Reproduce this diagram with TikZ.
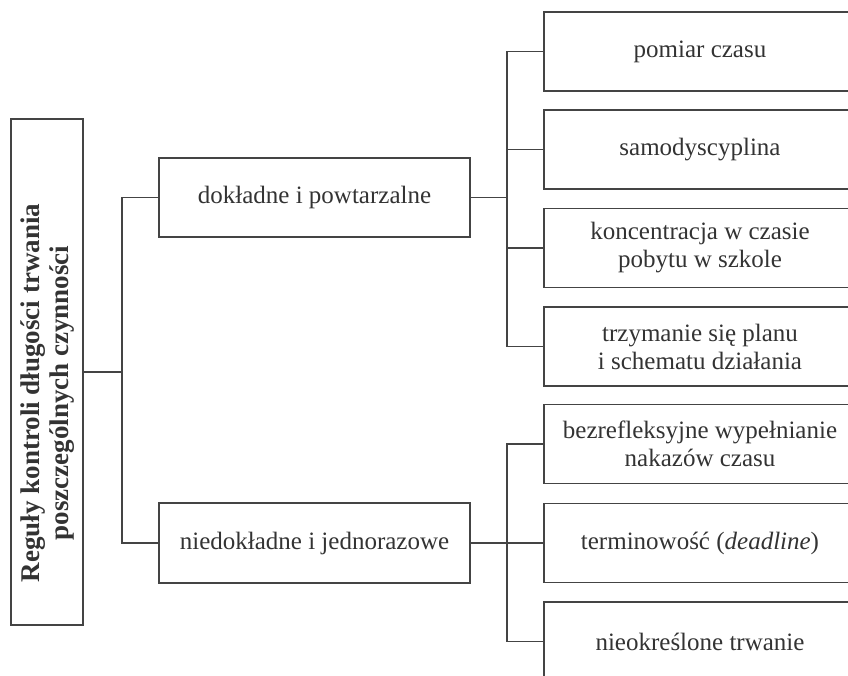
\documentclass[tikz,border=0pt]{standalone}
\usepackage{fontspec}
\setmainfont{Liberation Serif}
\definecolor{ink}{HTML}{333333}
\definecolor{linec}{HTML}{444444}
\begin{document}
\begin{tikzpicture}[x=1pt,y=-1pt,
  every node/.style={text=ink},
  box/.style={draw=linec, line width=1.3pt, inner sep=0pt, align=center,
    font=\fontsize{25}{28}\selectfont},
  rbox/.style={box, minimum width=312pt, minimum height=79pt},
  conn/.style={draw=linec, line width=1.3pt}]
\useasboundingbox (0,0) rectangle (848,676);
\clip (0,0) rectangle (848,676);
\node[box, minimum width=72pt, minimum height=506pt] (root) at (47,372) {};
\node[text=ink, rotate=90, align=center, font=\bfseries\fontsize{27}{29}\selectfont] (roottext) at (48,393) {Reguły kontroli długości trwania\\poszczególnych czynności};
\node[box, minimum width=311pt, minimum height=79pt] (A) at (314.5,197.5) {dokładne i powtarzalne};
\node[box, minimum width=311pt, minimum height=80pt] (B) at (314.5,543) {niedokładne i jednorazowe};
\node[rbox] (r1) at (700,51.5) {pomiar czasu};
\node[rbox] (r2) at (700,149.5) {samodyscyplina};
\node[rbox] (r3) at (700,248) {koncentracja w czasie\\pobytu w szkole};
\node[rbox] (r4) at (700,346.5) {trzymanie się planu\\i schematu działania};
\node[rbox] (r5) at (700,444) {bezrefleksyjne wypełnianie\\nakazów czasu};
\node[rbox] (r6) at (700,543) {terminowość (\textit{deadline})};
\node[rbox] (r7) at (700,641.5) {nieokreślone trwanie};
\coordinate (j1) at (122,372);
\coordinate (j2) at (507,197.5);
\coordinate (j3) at (507,543);
\draw[conn] (root.east) -- (j1);
\draw[conn] (A.west) -| (j1) |- (B.west);
\draw[conn] (A.east) -- (j2);
\draw[conn] (r1.west) -| (j2) |- (r4.west);
\draw[conn] (j2) |- (r2.west);
\draw[conn] (j2) |- (r3.west);
\draw[conn] (B.east) -- (r6.west);
\draw[conn] (r5.west) -| (j3) |- (r7.west);
\end{tikzpicture}
\end{document}
